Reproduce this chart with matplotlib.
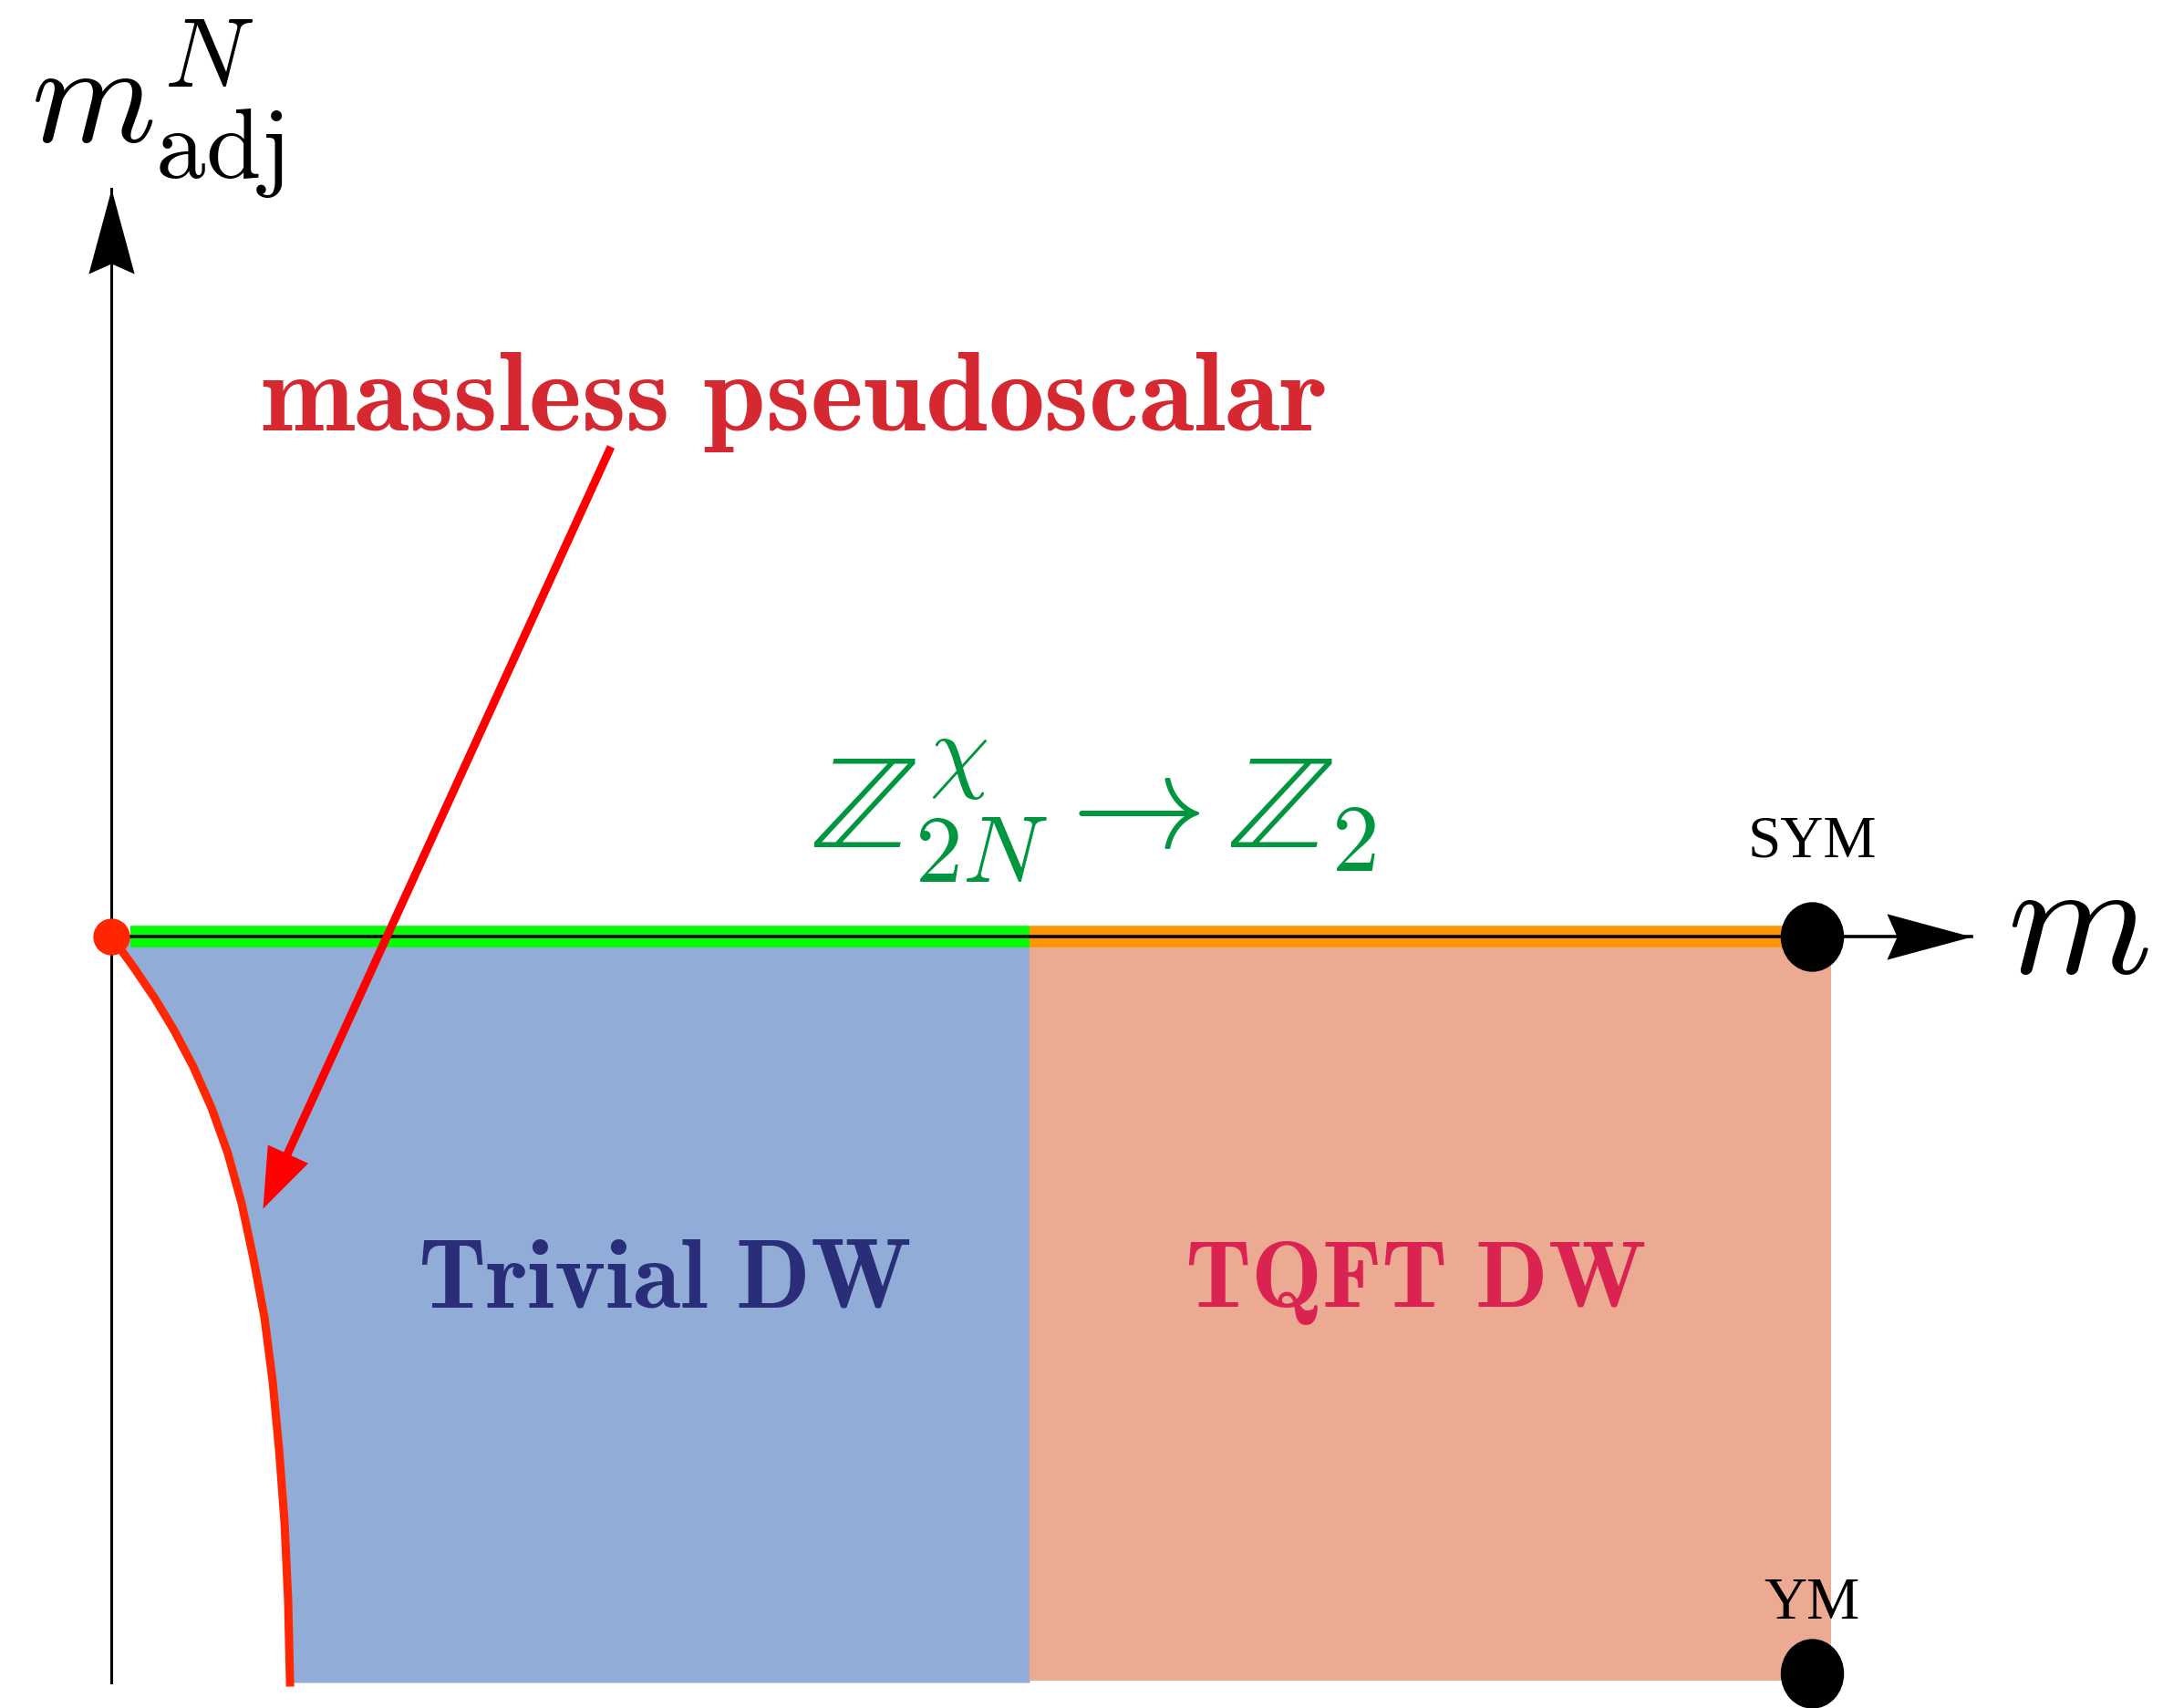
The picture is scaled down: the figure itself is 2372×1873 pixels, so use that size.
import numpy as np
import matplotlib.pyplot as plt
from matplotlib.path import Path
from matplotlib.transforms import Affine2D

plt.rcParams['mathtext.fontset'] = 'cm'

# phase diagram units: SYM sits at m = 1, YM at m_adj = -1
m_sym = 1.0
adj_ym = -1.0
m_transition = 0.54
m_band_start = 0.011
m_band_end = 1.016
m_fill_end = 1.011
adj_fill_bottom = -1.01
m_axis_tip = 1.094
adj_axis_tip = 1.015
adj_axis_bottom = -1.012

# massless pseudoscalar line
curve_m = [0.0, 0.0129, 0.0257, 0.0370, 0.0483, 0.0590, 0.0686, 0.0767, 0.0836, 0.0901,
           0.0949, 0.0987, 0.1019, 0.1040, 0.1051]
curve_adj = [0.0, -0.0408, -0.0842, -0.1275, -0.1770, -0.2327, -0.2946, -0.3626, -0.4369, -0.5173,
             -0.6040, -0.6968, -0.7958, -0.9010, -1.0124]

# annotation arrow (from label down to the curve)
arrow_start = (0.2938, 0.6646)
arrow_tip = (0.0890, -0.3688)

fig = plt.figure(figsize=(23.72, 18.73), dpi=100)
ax = fig.add_axes([0, 0, 1, 1])
ax.set_xlim(-0.06542, 1.20643)
ax.set_ylim(-1.04703, 1.27104)
ax.axis('off')

# stealth-like arrowhead marker, pointing +x, tip at origin
stealth = Path([(0, 0), (-1, 0.27), (-0.88, 0), (-1, -0.27), (0, 0)],
               [Path.MOVETO, Path.LINETO, Path.LINETO, Path.LINETO, Path.CLOSEPOLY])
stealth_up = stealth.transformed(Affine2D().rotate_deg(90))
triangle = Path([(0, 0), (-1, 0.37), (-1, -0.37), (0, 0)],
                [Path.MOVETO, Path.LINETO, Path.LINETO, Path.CLOSEPOLY])
tall_dot = Path.unit_circle().transformed(Affine2D().scale(1.0, 1.1))

# regions
ax.fill_betweenx(curve_adj, curve_m, m_transition, color='#91ACD7', lw=0, zorder=1)
ax.fill_between([m_transition, m_fill_end], adj_fill_bottom, 0, color='#ECAA92', lw=0, zorder=1)

# pseudoscalar curve
ax.plot(curve_m, curve_adj, color='#FF2600', lw=6.5, zorder=2)

# symmetry breaking bands on the m axis
ax.plot([m_band_start, m_transition], [0, 0], color='#00FF00', lw=17, solid_capstyle='butt', zorder=3)
ax.plot([m_transition, m_band_end], [0, 0], color='#FF9500', lw=17, solid_capstyle='butt', zorder=3)

# axes
ax.plot([0, m_axis_tip], [0, 0], color='black', lw=2.6, zorder=4)
ax.plot([0, 0], [adj_axis_bottom, adj_axis_tip], color='black', lw=2.2, zorder=4)
ax.plot([m_axis_tip], [0], marker=stealth, ms=134, color='black', mew=0, zorder=4)
ax.plot([0], [adj_axis_tip], marker=stealth_up, ms=134, color='black', mew=0, zorder=4)

# points
ax.plot([0], [0], 'o', ms=29, color='#FF2600', mew=0, zorder=5)
ax.plot([m_sym, m_sym], [0, adj_ym], marker=tall_dot, ls='none', ms=55, color='black', mew=0, zorder=5)

# red annotation arrow
p0 = ax.transData.transform(arrow_start)
p1 = ax.transData.transform(arrow_tip)
d = (p1 - p0) / np.hypot(*(p1 - p0))
angle = np.degrees(np.arctan2(d[1], d[0]))
head_len_px = 70
shaft_end = ax.transData.inverted().transform(p1 - d * head_len_px * 0.6)
ax.plot([arrow_start[0], shaft_end[0]], [arrow_start[1], shaft_end[1]],
        color='#FF0000', lw=6.5, solid_capstyle='butt', zorder=6)
ax.plot([arrow_tip[0]], [arrow_tip[1]], color='#FF0000', mew=0, zorder=6,
        marker=triangle.transformed(Affine2D().rotate_deg(angle)), ms=2 * head_len_px * 0.72)

# labels
ax.text(-0.047, 1.079, r'$m^{N}_{\mathrm{adj}}$', fontsize=112, ha='left', va='baseline')
ax.text(1.115, -0.0495, r'$m$', fontsize=130, ha='left', va='baseline')
ax.text(0.401, 0.687, r'$\mathbf{massless\ pseudoscalar}$', fontsize=89,
        color='#D62830', ha='center', va='baseline')
ax.text(0.578, 0.120, r'$\mathbb{Z}^{\chi}_{2N}\rightarrow\mathbb{Z}_2$', fontsize=107,
        color='#00963F', ha='center', va='baseline')
ax.text(0.325, -0.5025, r'$\mathbf{Trivial\ DW}$', fontsize=77,
        color='#2A2D78', ha='center', va='baseline')
ax.text(0.7668, -0.5025, r'$\mathbf{TQFT\ DW}$', fontsize=75,
        color='#DB2352', ha='center', va='baseline')
ax.text(m_sym, 0.1077, 'SYM', fontsize=47, family='Liberation Serif', ha='center', va='baseline')
ax.text(m_sym, -0.9257, 'YM', fontsize=47, family='Liberation Serif', ha='center', va='baseline')

fig.savefig('out.png', dpi=100)
